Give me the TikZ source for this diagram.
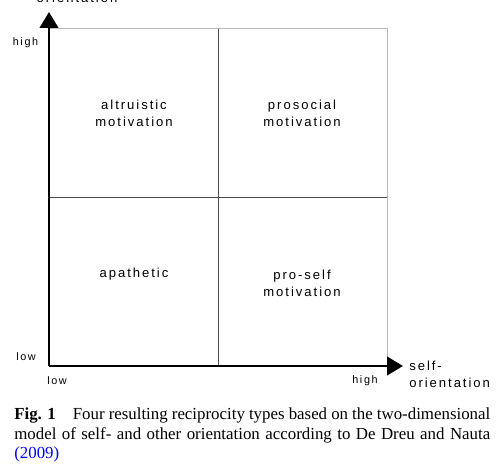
\documentclass[tikz,border=0pt]{standalone}
\usepackage{fontspec}
\setmainfont{Liberation Serif}
\newfontfamily\figfont[LetterSpace=15]{Liberation Sans}
\usepackage{xcolor}
\usetikzlibrary{arrows.meta}

\tikzset{
  axis/.style={black, line width=2.1pt, -{Triangle[length=0.4cm,width=0.46cm]}},
  gridline/.style={gray!60!black, line width=0.6pt},
  outerline/.style={gray!55, line width=0.7pt},
  quadlabel/.style={align=center, font=\figfont\fontsize{9.3}{12.1}\selectfont},
  ticklabel/.style={font=\figfont\fontsize{7.7}{9}\selectfont},
  axistitle/.style={align=left, font=\figfont\fontsize{9.3}{12.1}\selectfont},
}

\begin{document}
\begin{tikzpicture}
\useasboundingbox (0cm,0cm) rectangle (12.475cm,11.9cm);
\clip (0cm,0cm) rectangle (12.475cm,11.9cm);
\coordinate (origin) at (1.225cm,2.75cm);
\coordinate (ytip) at (1.225cm,11.6cm);
\coordinate (xtip) at (10.075cm,2.75cm);
\coordinate (tl) at (1.225cm,11.175cm);
\coordinate (tm) at (5.45cm,11.175cm);
\coordinate (tr) at (9.675cm,11.175cm);
\coordinate (ml) at (1.225cm,6.975cm);
\coordinate (mr) at (9.675cm,6.975cm);
\coordinate (bm) at (5.45cm,2.75cm);
\coordinate (br) at (9.675cm,2.75cm);
% grid
\draw[outerline] (tl) -- (tr) -- (br);
\draw[gridline] (tm) -- (bm);
\draw[gridline] (ml) -- (mr);
% axes
\draw[axis] (origin) -- (ytip);
\draw[axis] (origin) -- (xtip);
% quadrants
\node[quadlabel] (altruistic) at (3.35cm,9.0625cm) {altruistic\\motivation};
\node[quadlabel] (prosocial) at (7.55cm,9.0625cm) {prosocial\\motivation};
\node[quadlabel] (apathetic) at (3.35cm,5.05cm) {apathetic};
\node[quadlabel] (proself) at (7.55cm,4.825cm) {pro-self\\motivation};
% axis labels
\node[ticklabel] (yhigh) at (0.6375cm,10.825cm) {high};
\node[ticklabel] (ylow) at (0.65cm,2.975cm) {low};
\node[ticklabel] (xlow) at (1.425cm,2.375cm) {low};
\node[ticklabel] (xhigh) at (9.125cm,2.375cm) {high};
\node[axistitle, anchor=west, inner xsep=0pt] (xtitle) at (10.225cm,2.5375cm) {self-\\orientation};
\node[axistitle] (ytitle) at (1.925cm,11.95cm) {orientation};
% caption
\node[anchor=north west, inner sep=0pt, text width=11.9cm, align=justify,
  font=\fontsize{12}{13.87}\selectfont] (caption) at (0.35cm,1.7cm)
  {\textbf{Fig. 1}\quad Four resulting reciprocity types based on the two-dimensional model of self- and other orientation according to De Dreu and Nauta \textcolor{blue}{(2009)}};
\end{tikzpicture}
\end{document}
